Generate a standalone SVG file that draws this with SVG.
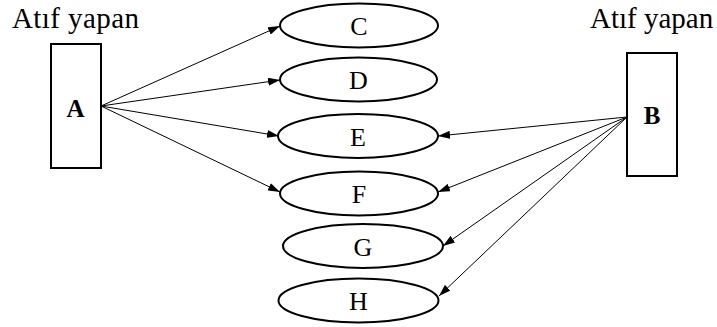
<svg xmlns="http://www.w3.org/2000/svg" width="717" height="327" viewBox="0 0 717 327">
<style>
.box{fill:#fff;stroke:#000;stroke-width:2}
.ell{fill:#fff;stroke:#000;stroke-width:2}
.lbl{font-family:"Liberation Serif","Times New Roman",serif;font-size:26px;fill:#000;text-anchor:middle}
.b{font-weight:bold;font-size:25px}
.cap{font-family:"Liberation Serif","Times New Roman",serif;font-size:29px;fill:#000}
.edge{stroke:#000;stroke-width:1;fill:none;marker-end:url(#ah)}
</style>
<defs>
<marker id="ah" viewBox="0 0 12 8" refX="12" refY="4" markerWidth="12" markerHeight="8" markerUnits="userSpaceOnUse" orient="auto">
<path d="M0,0 L12,4 L0,8 z" fill="#000"/>
</marker>
</defs>
<rect width="717" height="327" fill="#fff"/>
<text class="cap" x="12" y="28" textLength="127" lengthAdjust="spacing">Atıf yapan</text>
<text class="cap" x="590" y="28">Atıf yapan</text>
<g id="connectors">
<line class="edge" x1="101" y1="106" x2="280" y2="26"/>
<line class="edge" x1="101" y1="106" x2="280" y2="80"/>
<line class="edge" x1="101" y1="106" x2="279" y2="136"/>
<line class="edge" x1="101" y1="106" x2="280" y2="192"/>
<line class="edge" x1="627" y1="117" x2="438" y2="136"/>
<line class="edge" x1="627" y1="117" x2="438" y2="192"/>
<line class="edge" x1="627" y1="117" x2="443" y2="246"/>
<line class="edge" x1="627" y1="117" x2="439" y2="296"/>
</g>
<g id="A"><rect class="box" x="51" y="44" width="50" height="124"/><text class="lbl b" x="75.5" y="117">A</text></g>
<g id="B"><rect class="box" x="627" y="53" width="50" height="123"/><text class="lbl b" x="652" y="124">B</text></g>
<g id="C"><ellipse class="ell" cx="359" cy="25.5" rx="79" ry="22"/><text class="lbl" x="359" y="35">C</text></g>
<g id="D"><ellipse class="ell" cx="358.5" cy="79.5" rx="78.5" ry="22"/><text class="lbl" x="358.5" y="89">D</text></g>
<g id="E"><ellipse class="ell" cx="358" cy="136" rx="80" ry="22"/><text class="lbl" x="358" y="145.5">E</text></g>
<g id="F"><ellipse class="ell" cx="359" cy="193.5" rx="79" ry="22"/><text class="lbl" x="359" y="203">F</text></g>
<g id="G"><ellipse class="ell" cx="363" cy="246" rx="80" ry="22"/><text class="lbl" x="363" y="255.5">G</text></g>
<g id="H"><ellipse class="ell" cx="358.5" cy="300.5" rx="80" ry="22"/><text class="lbl" x="358.5" y="310">H</text></g>
</svg>
